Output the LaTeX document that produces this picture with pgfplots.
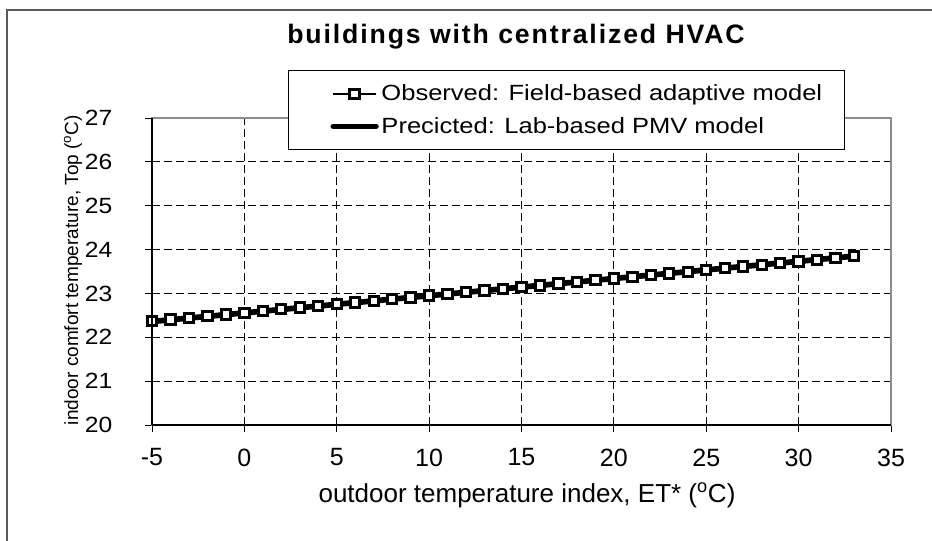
\documentclass[border=0pt]{standalone}
\usepackage{pgfplots}
\pgfplotsset{compat=1.18}
\usepackage{fontspec}
\setmainfont{Liberation Sans}
\newfontfamily\legfont[FakeStretch=1.16]{Liberation Sans}
\newfontfamily\tickfont[FakeStretch=1.12]{Liberation Sans}
\newfontfamily\titlefont[LetterSpace=7]{Liberation Sans}
\begin{document}
\begin{tikzpicture}
\path[use as bounding box] (0pt,0pt) rectangle (699pt,-405pt);
% outer frame (left and top edges)
\draw[line width=1.5pt, color=black!65] (5.25pt,-420pt) -- (5.25pt,-7.5pt) -- (720pt,-7.5pt);
\begin{axis}[
  at={(114pt,-318.75pt)}, anchor=south west,
  scale only axis, width=554.25pt, height=230.25pt,
  xmin=-5, xmax=35, ymin=20, ymax=27,
  xtick={-5,0,5,10,15,20,25,30,35},
  xticklabels={-5,0,5,10,15,20,25,30,35},
  ytick={20,21,22,23,24,25,26,27},
  yticklabels={20,21,22,23,24,25,26,27},
  xtick pos=left, ytick pos=left,
  tick align=center, major tick length=10.5pt,
  major tick style={black, line width=0.75pt},
  axis line style={draw=black!45, line width=2pt},
  grid=major,
  major grid style={black, line width=0.8pt, dash pattern=on 6pt off 3pt},
  x tick label style={font=\fontsize{18.75pt}{20pt}\selectfont, yshift=-9pt},
  y tick label style={font=\tickfont\fontsize{16.5pt}{18pt}\selectfont, xshift=-21pt},
  legend style={at={(0.184,1.1564)}, anchor=north west, draw=black, line width=0.75pt,
    fill=white, inner xsep=0pt, inner ysep=8.75pt, row sep=7pt,
    font=\legfont\fontsize{16.5pt}{18pt}\selectfont},
  legend cell align=left,
  legend image code/.code={
    \path (-31.5pt,0pt);
    \draw[mark repeat=2,mark phase=2,#1] plot coordinates {(0pt,0pt) (16pt,0pt) (32pt,0pt)};
  },
]
\addplot[black, line width=1.5pt, mark=square*, mark size=3.5pt,
  mark options={fill=white, draw=black, line width=2.25pt}] coordinates {
(-5,22.365) (-4,22.404) (-3,22.443) (-2,22.482) (-1,22.521) (0,22.560)
(1,22.599) (2,22.638) (3,22.677) (4,22.716) (5,22.755) (6,22.794)
(7,22.833) (8,22.872) (9,22.911) (10,22.950) (11,22.989) (12,23.028)
(13,23.067) (14,23.106) (15,23.145) (16,23.184) (17,23.223) (18,23.262)
(19,23.301) (20,23.340) (21,23.379) (22,23.418) (23,23.457) (24,23.496)
(25,23.535) (26,23.574) (27,23.613) (28,23.652) (29,23.691) (30,23.730)
(31,23.769) (32,23.808) (33,23.847)};
\addlegendentry{\makebox[345pt][l]{Observed: Field-based adaptive model}}
\addplot[black, line width=4.25pt, line cap=round] coordinates {
(-5,22.36) (33,23.85)};
\addlegendentry{\makebox[345pt][l]{Precicted: Lab-based PMV model}}
% redraw markers on top of thick line
\addplot[black, line width=1.5pt, mark=square*, mark size=3.5pt, forget plot,
  mark options={fill=white, draw=black, line width=2.25pt}] coordinates {
(-5,22.365) (-4,22.404) (-3,22.443) (-2,22.482) (-1,22.521) (0,22.560)
(1,22.599) (2,22.638) (3,22.677) (4,22.716) (5,22.755) (6,22.794)
(7,22.833) (8,22.872) (9,22.911) (10,22.950) (11,22.989) (12,23.028)
(13,23.067) (14,23.106) (15,23.145) (16,23.184) (17,23.223) (18,23.262)
(19,23.301) (20,23.340) (21,23.379) (22,23.418) (23,23.457) (24,23.496)
(25,23.535) (26,23.574) (27,23.613) (28,23.652) (29,23.691) (30,23.730)
(31,23.769) (32,23.808) (33,23.847)};
\end{axis}
\begin{axis}[
  at={(114pt,-318.75pt)}, anchor=south west,
  scale only axis, width=554.25pt, height=230.25pt,
  xmin=-5, xmax=35, ymin=20, ymax=27,
  axis lines=left, axis line style={-, black, line width=1.5pt},
  xtick=\empty, ytick=\empty,
  minor xtick={-4,-3,...,34}, minor ytick={20.5,21.5,...,26.5},
  tick align=inside, minor tick length=5pt,
  minor tick style={black, line width=0.75pt},
]
\end{axis}
\begin{scope}[x=0.75pt, y=-0.75pt]
\node[font=\titlefont\bfseries\fontsize{20pt}{22pt}\selectfont] at (516,37) {buildings with centralized HVAC};
\node[font=\fontsize{19.5pt}{21pt}\selectfont] at (527,495) {outdoor temperature index, ET* (\textsuperscript{o}C)};
\node[font=\fontsize{14.25pt}{16pt}\selectfont, rotate=90] at (73,270) {indoor comfort temperature, Top (\textsuperscript{o}C)};
\end{scope}
\end{tikzpicture}
\end{document}
